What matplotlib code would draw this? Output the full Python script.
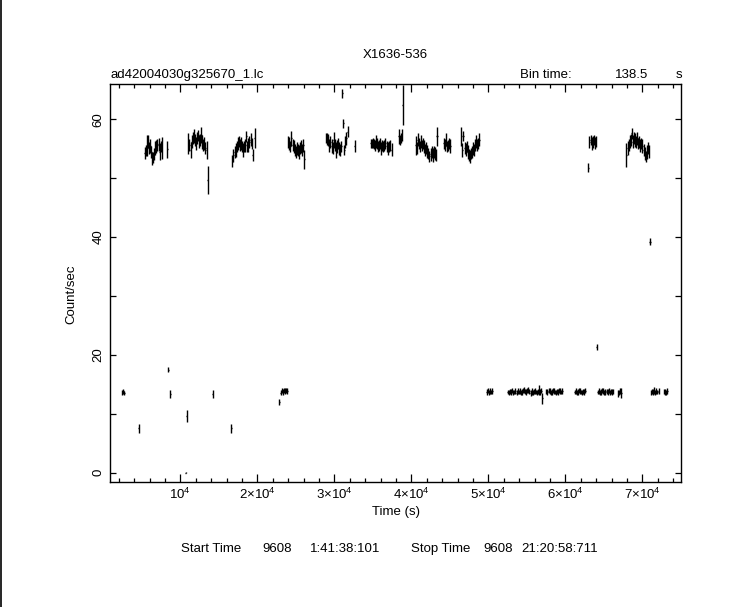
import matplotlib
matplotlib.use("Agg")
import matplotlib.pyplot as plt
from matplotlib.lines import Line2D
from matplotlib.ticker import FixedLocator, MultipleLocator

plt.rcParams['font.family'] = ['Liberation Sans', 'DejaVu Sans']
plt.rcParams['mathtext.fontset'] = 'custom'
plt.rcParams['mathtext.rm'] = 'Liberation Sans'
plt.rcParams['mathtext.it'] = 'Liberation Sans:italic'

# ---------------- data ----------------
title = "X1636-536"
file_label = "ad42004030g325670_1.lc"
bin_time = 138.5

# high-state bins (time in s, count/sec, 1-sigma error)
high_time = [
    5360, 5499, 5637, 5776, 5914, 6053, 6191, 6330, 6468, 6607, 6745, 6884, 7022, 7161, 7299, 7438, 7576, 8310,
    11040, 11179, 11317, 11456, 11594, 11733, 11871, 12010, 12148, 12287, 12425, 12564, 12702, 12841, 12979, 13118, 13256, 13394, 13560,
    16760, 16899, 17037, 17176, 17314, 17453, 17591, 17730, 17868, 18007, 18145, 18284, 18422, 18561, 18699, 18838, 18976, 19115, 19253, 19392, 19650,
    24010, 24149, 24287, 24426, 24564, 24703, 24841, 24980, 25118, 25257, 25395, 25534, 25672, 25811, 25949, 26080,
    28940, 29079, 29217, 29356, 29494, 29633, 29771, 29910, 30048, 30187, 30325, 30464, 30602, 30741, 30879, 31010, 31150, 31290, 31430, 31570, 31710, 32660,
    34700, 34839, 34977, 35116, 35254, 35393, 35531, 35670, 35808, 35947, 36085, 36224, 36362, 36501, 36639, 36778, 36916, 37055, 37193, 37440,
    38340, 38479, 38617, 38756, 38895,
    40550, 40689, 40827, 40966, 41104, 41243, 41381, 41520, 41658, 41797, 41935, 42074, 42212, 42351, 42489, 42628, 42766, 42905, 43043, 43182, 43330,
    44190, 44329, 44467, 44606, 44744, 44883, 45021,
    46490, 46629, 46767, 46906, 47044, 47183, 47321, 47460, 47598, 47737, 47875, 48014, 48152, 48291, 48429, 48568, 48706, 48845,
    62950, 63130, 63269, 63407, 63546, 63684, 63823, 63961,
    67940, 68079, 68217, 68356, 68494, 68633, 68771, 68910, 69048, 69187, 69325, 69464, 69602, 69741, 69879, 70018, 70156, 70295, 70433, 70572, 70710, 70849, 70990,
]
high_rate = [
    54.3, 54.7, 55.5, 56.2, 55.1, 55.4, 54.5, 53.4, 53.5, 54.1, 55.1, 55.4, 55.6, 55.8, 54.5, 55.4, 55.1, 54.9,
    55.9, 55.6, 54.8, 56.2, 56.8, 57.1, 56.5, 55.9, 56.8, 57.3, 56.2, 56.5, 57.3, 56.2, 55.6, 55.9, 55.1, 54.8, 49.7,
    52.9, 53.9, 54.5, 54.8, 55.4, 55.9, 56.2, 55.6, 55.9, 55.4, 54.8, 55.4, 55.6, 57.1, 55.4, 55.6, 56.2, 56.5, 55.9, 53.9, 56.9,
    56.2, 55.9, 55.4, 56.8, 55.6, 55.4, 54.8, 54.5, 55.1, 54.8, 54.5, 55.1, 55.4, 54.8, 55.6, 53.2,
    56.8, 56.6, 56.5, 55.6, 56.2, 55.4, 55.1, 56.5, 55.6, 54.8, 55.4, 55.9, 55.1, 54.8, 55.4, 64.4, 59.3, 54.8, 56.2, 56.8, 57.9, 55.5,
    55.9, 55.9, 56.0, 55.8, 55.6, 56.2, 55.9, 55.4, 55.6, 55.9, 55.1, 55.6, 55.4, 55.6, 55.9, 55.4, 55.1, 55.4, 55.6, 54.8,
    57.1, 56.5, 56.8, 57.3, 62.5,
    55.6, 55.1, 56.5, 55.9, 55.4, 56.2, 55.6, 55.9, 55.4, 54.8, 55.1, 54.5, 54.2, 53.7, 54.1, 54.5, 53.9, 54.5, 54.2, 53.9, 57.1,
    55.9, 55.6, 56.5, 55.4, 55.6, 55.9, 55.4,
    57.1, 54.8, 57.2, 55.1, 54.8, 55.4, 54.5, 53.9, 53.7, 54.2, 54.5, 55.1, 54.8, 55.6, 56.2, 55.6, 55.9, 56.5,
    51.8, 56.2, 56.5, 55.9, 56.2, 56.5, 56.0, 56.2,
    53.9, 55.1, 55.6, 56.2, 56.5, 57.6, 56.2, 56.8, 56.5, 56.2, 56.8, 55.9, 56.2, 55.6, 55.9, 55.4, 54.8, 54.2, 53.7, 54.5, 55.1, 54.5, 39.2,
]
high_err = [
    1.0, 0.9, 1.8, 1.1, 1.0, 1.2, 1.0, 1.1, 0.9, 1.0, 1.2, 1.1, 1.0, 1.1, 1.4, 1.0, 1.9, 1.5,
    1.8, 1.0, 1.4, 1.1, 1.0, 1.2, 1.0, 1.1, 1.0, 0.9, 1.1, 1.0, 1.4, 1.2, 1.0, 1.1, 1.0, 1.5, 2.3,
    1.0, 1.1, 1.0, 1.2, 1.0, 1.1, 0.9, 1.0, 1.1, 1.0, 1.2, 1.0, 1.1, 0.9, 1.0, 1.2, 1.0, 1.1, 1.0, 1.0, 1.7,
    1.0, 1.1, 1.0, 1.3, 1.0, 1.1, 1.0, 1.0, 1.1, 1.0, 1.2, 1.0, 1.1, 1.0, 1.1, 1.6,
    0.9, 1.0, 1.0, 1.1, 1.0, 1.2, 1.0, 1.3, 1.0, 1.4, 1.1, 1.0, 1.1, 1.0, 1.0, 0.8, 0.7, 0.9, 1.0, 1.1, 0.9, 1.0,
    0.8, 0.8, 0.9, 0.8, 0.9, 1.1, 0.9, 1.0, 0.9, 1.0, 1.1, 0.9, 1.0, 0.9, 1.0, 0.9, 1.1, 1.0, 0.9, 1.1,
    1.3, 0.9, 0.9, 1.0, 3.4,
    1.6, 1.0, 1.1, 1.0, 1.0, 1.1, 0.9, 1.0, 1.1, 1.0, 1.0, 1.1, 1.0, 1.0, 1.1, 1.0, 1.2, 1.0, 1.1, 1.0, 1.6,
    1.0, 1.0, 1.1, 1.0, 0.9, 1.0, 1.2,
    1.6, 1.2, 0.8, 1.0, 1.1, 1.0, 1.2, 1.0, 1.1, 1.0, 1.0, 1.1, 1.0, 1.0, 1.1, 1.0, 1.0, 1.1,
    0.7, 1.0, 0.9, 1.1, 1.0, 0.9, 1.0, 0.9,
    2.0, 1.2, 1.0, 1.1, 1.0, 1.0, 1.1, 1.0, 1.2, 1.0, 1.1, 1.0, 1.0, 1.1, 1.0, 1.2, 1.0, 1.1, 1.0, 1.2, 1.0, 1.1, 0.6,
]

# low-state bins
low_time = [
    2450, 2590, 2730, 4580, 8440, 8660, 10700, 10840, 14200, 16620, 22870,
    23040, 23180, 23320, 23460, 23590, 23730, 23870,
    49820, 49959, 50097, 50236, 50374, 50513,
    52550, 52689, 52827, 52966, 53104, 53243, 53381, 53520, 53658, 53797, 53935, 54074, 54212, 54351, 54489, 54628, 54766, 54905, 55043, 55182, 55320,
    55500, 55639, 55777, 55916, 56054, 56193, 56331, 56470, 56608, 56747, 56885, 57024,
    57540, 57679, 57817, 57956, 58094, 58233, 58371, 58510, 58648, 58787, 58925, 59064, 59202, 59341, 59479, 59618,
    61220, 61359, 61497, 61636, 61774, 61913, 62051, 62190, 62328, 62467, 62605,
    64100,
    64240, 64379, 64517, 64656, 64794, 64933, 65071, 65210, 65348, 65487, 65625, 65764, 65902, 66041, 66179,
    66850, 66989, 67127, 67266,
    71130, 71269, 71407, 71546, 71684, 71823, 71961, 72100,
    72830, 72969, 73107, 73246,
]
low_rate = [
    13.6, 13.8, 13.5, 7.5, 17.5, 13.3, 0.0, 9.6, 13.3, 7.5, 12.0,
    13.6, 13.9, 13.7, 14.0, 13.8, 14.0, 13.9,
    13.7, 13.9, 13.6, 13.8, 13.7, 13.9,
    13.7, 13.6, 13.8, 13.7, 13.9, 13.6, 13.7, 13.8, 13.6, 13.9, 13.7, 13.8, 13.6, 13.7, 13.9, 14.0, 13.8, 13.7, 13.9, 14.1, 13.8,
    13.5, 13.7, 13.6, 13.8, 13.9, 13.7, 13.6, 13.8, 14.0, 13.7, 13.9, 12.6,
    13.8, 13.7, 13.9, 13.8, 13.6, 13.7, 13.9, 13.8, 13.7, 13.6, 13.8, 13.7, 13.9, 13.8, 13.7, 13.8,
    13.7, 13.8, 13.6, 13.7, 13.9, 13.8, 13.7, 13.6, 13.8, 13.7, 13.9,
    21.4,
    13.7, 13.8, 13.6, 13.7, 13.9, 13.8, 13.6, 13.7, 13.8, 13.7, 13.9, 13.6, 13.8, 13.7, 13.8,
    13.4, 13.6, 13.8, 13.5,
    13.6, 13.8, 13.7, 13.9, 13.6, 13.8, 13.7, 13.9,
    13.8, 13.7, 13.6, 13.8,
]
low_err = [
    0.4, 0.4, 0.4, 0.7, 0.5, 0.7, 0.1, 1.0, 0.7, 0.7, 0.5,
    0.5, 0.4, 0.5, 0.4, 0.5, 0.4, 0.5,
    0.5, 0.4, 0.5, 0.5, 0.4, 0.5,
    0.4, 0.5, 0.4, 0.5, 0.4, 0.5, 0.4, 0.5, 0.4, 0.5, 0.4, 0.5, 0.4, 0.5, 0.4, 0.5, 0.4, 0.5, 0.4, 0.5, 0.4,
    0.5, 0.6, 0.5, 0.4, 0.5, 0.4, 0.5, 0.4, 0.9, 0.5, 0.4, 1.0,
    0.4, 0.5, 0.4, 0.5, 0.4, 0.5, 0.4, 0.5, 0.4, 0.5, 0.4, 0.5, 0.4, 0.5, 0.4, 0.5,
    0.4, 0.5, 0.4, 0.5, 0.4, 0.5, 0.4, 0.5, 0.4, 0.5, 0.4,
    0.5,
    0.4, 0.5, 0.4, 0.5, 0.4, 0.5, 0.4, 0.5, 0.4, 0.5, 0.4, 0.5, 0.4, 0.5, 0.4,
    0.6, 0.5, 0.5, 0.8,
    0.5, 0.4, 0.5, 0.6, 0.4, 0.5, 0.4, 0.5,
    0.4, 0.5, 0.4, 0.5,
]

x_major = [10000, 20000, 30000, 40000, 50000, 60000, 70000]
x_major_labels = [r'$\mathregular{10^4}$', r'$\mathregular{2{\times}10^4}$', r'$\mathregular{3{\times}10^4}$',
                  r'$\mathregular{4{\times}10^4}$', r'$\mathregular{5{\times}10^4}$', r'$\mathregular{6{\times}10^4}$',
                  r'$\mathregular{7{\times}10^4}$']
y_ticks = [0, 10, 20, 30, 40, 50, 60]
y_tick_labels = ["0", "", "20", "", "40", "", "60"]

# ---------------- figure ----------------
W, H = 743, 607
FS = 9.5
fig = plt.figure(figsize=(W / 100, H / 100), dpi=100)
fig.patch.set_facecolor('white')

L, R, T, B = 110, 681, 84, 482
ax = fig.add_axes([L / W, 1 - B / H, (R - L) / W, (B - T) / H])

half_bin = bin_time / 2
ax.errorbar(high_time, high_rate, yerr=high_err, xerr=half_bin, fmt='none',
            ecolor='black', elinewidth=1.0, capsize=0)
ax.errorbar(low_time, low_rate, yerr=low_err, xerr=half_bin, fmt='none',
            ecolor='black', elinewidth=1.0, capsize=0)

ax.set_xlim(860, 75020)
ax.set_ylim(-1.6, 66.0)

for s in ax.spines.values():
    s.set_linewidth(1.0)

ax.xaxis.set_major_locator(FixedLocator(x_major))
ax.xaxis.set_minor_locator(MultipleLocator(2000))
ax.set_xticklabels(x_major_labels)
ax.set_yticks(y_ticks)
ax.set_yticklabels(y_tick_labels)

ax.tick_params(axis='x', which='major', direction='in', length=5.5, width=0.9,
               top=True, bottom=True, labelsize=FS, pad=3.5)
ax.tick_params(axis='x', which='minor', direction='in', length=3, width=0.9,
               top=True, bottom=True)
ax.tick_params(axis='y', which='major', direction='in', length=4.5, width=0.9,
               left=True, right=True, labelsize=FS, pad=4)
for lab in ax.get_yticklabels():
    lab.set_rotation(90)
    lab.set_va('center')

ax.set_xlabel("Time (s)", fontsize=FS, labelpad=3)
ax.set_ylabel("Count/sec", fontsize=FS)
ax.yaxis.set_label_coords((77 - L) / (R - L), (B - 294) / (B - T))

def ftext(x, y, s, **kw):
    fig.text(x / W, 1 - y / H, s, fontsize=FS, va='center', **kw)

ftext(395, 55, title, ha='center')
ftext(110, 75, file_label, ha='left')
ftext(520, 75, "Bin time:", ha='left')
ftext(648, 75, f"{bin_time}", ha='right')
ftext(682, 75, "s", ha='right')

ftext(181, 549, "Start Time", ha='left')
ftext(262, 549, "9608", ha='left')
ftext(310, 549, "1:41:38:101", ha='left')
ftext(411, 549, "Stop Time", ha='left')
ftext(483, 549, "9608", ha='left')
ftext(521, 549, "21:20:58:711", ha='left')

fig.add_artist(Line2D([0.8 / W, 0.8 / W], [0, 1], transform=fig.transFigure,
                      color='black', linewidth=1.2))

fig.savefig("out.png", dpi=100, facecolor='white')
